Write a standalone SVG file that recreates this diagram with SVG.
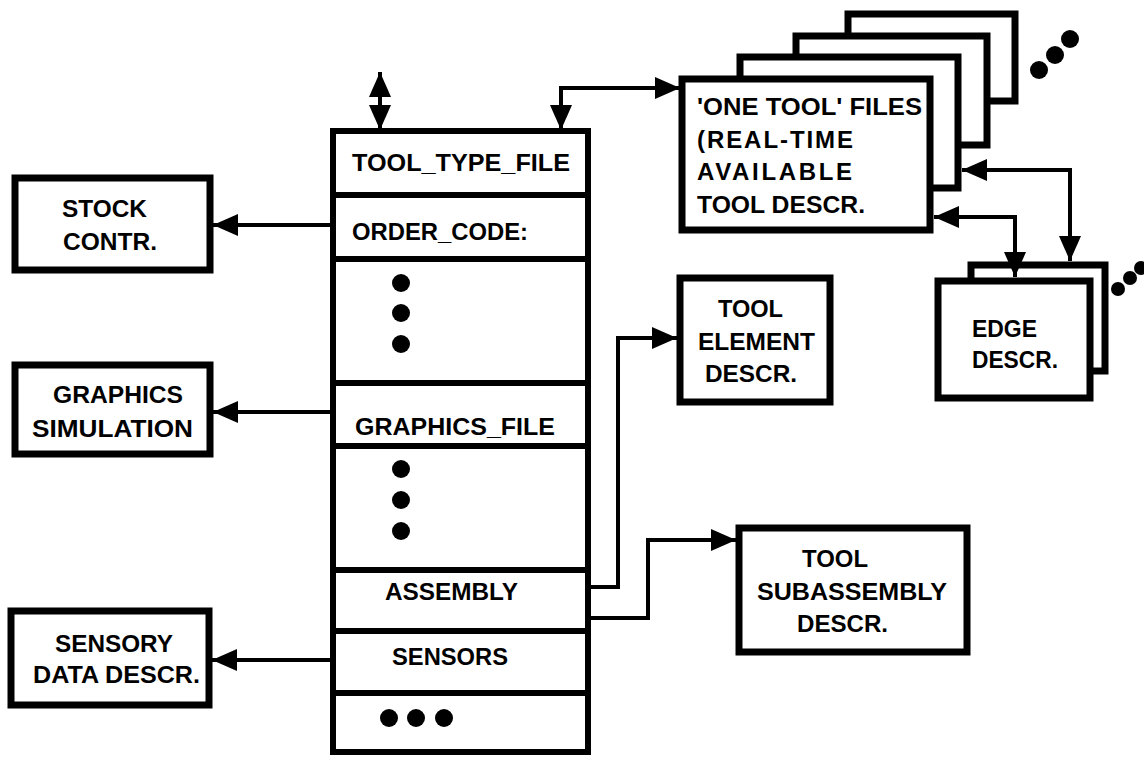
<svg xmlns="http://www.w3.org/2000/svg" width="1144" height="758" viewBox="0 0 1144 758">
<style>
.box{fill:#fff;stroke:#000;stroke-width:7}
.col{fill:#fff;stroke:#000;stroke-width:6}
.div{stroke:#000;stroke-width:6}
.con{fill:none;stroke:#000;stroke-width:4}
text{font-family:"Liberation Sans",Arial,sans-serif;font-weight:bold;font-size:24px;fill:#000}
.dot{fill:#000}
</style>
<defs>
<marker id="ah" markerUnits="userSpaceOnUse" markerWidth="26" markerHeight="22" viewBox="0 0 26 22" refX="25" refY="11" orient="auto-start-reverse">
<path d="M0,0 L25,11 L0,22 Z" fill="#000"/>
</marker>
</defs>
<rect width="1144" height="758" fill="#fff"/>

<g id="tool-type-file">
<rect class="col" x="333" y="131" width="255" height="621"/>
<line class="div" x1="333" y1="195" x2="588" y2="195"/>
<line class="div" x1="333" y1="259" x2="588" y2="259"/>
<line class="div" x1="333" y1="383" x2="588" y2="383"/>
<line class="div" x1="333" y1="446" x2="588" y2="446"/>
<line class="div" x1="333" y1="570" x2="588" y2="570"/>
<line class="div" x1="333" y1="631" x2="588" y2="631"/>
<line class="div" x1="333" y1="693" x2="588" y2="693"/>
<text x="352" y="171" textLength="218" lengthAdjust="spacingAndGlyphs">TOOL_TYPE_FILE</text>
<text x="352" y="240" textLength="176" lengthAdjust="spacingAndGlyphs">ORDER_CODE:</text>
<circle class="dot" cx="401" cy="283" r="9"/>
<circle class="dot" cx="401" cy="313" r="9"/>
<circle class="dot" cx="401" cy="344" r="9"/>
<text x="355" y="435" textLength="200" lengthAdjust="spacingAndGlyphs">GRAPHICS_FILE</text>
<circle class="dot" cx="401" cy="469" r="9"/>
<circle class="dot" cx="401" cy="500" r="9"/>
<circle class="dot" cx="401" cy="531" r="9"/>
<text x="385" y="600" textLength="133" lengthAdjust="spacingAndGlyphs">ASSEMBLY</text>
<text x="392" y="665" textLength="116" lengthAdjust="spacingAndGlyphs">SENSORS</text>
<circle class="dot" cx="389" cy="718" r="9"/>
<circle class="dot" cx="416" cy="718" r="9"/>
<circle class="dot" cx="444" cy="718" r="9"/>
</g>

<g id="stock-contr">
<rect class="box" x="15" y="178" width="195" height="92"/>
<text x="62" y="217" textLength="85" lengthAdjust="spacingAndGlyphs">STOCK</text>
<text x="63" y="250" textLength="94" lengthAdjust="spacingAndGlyphs">CONTR.</text>
</g>

<g id="graphics-simulation">
<rect class="box" x="15" y="365" width="195" height="89"/>
<text x="53" y="403" textLength="130" lengthAdjust="spacingAndGlyphs">GRAPHICS</text>
<text x="32" y="437" textLength="161" lengthAdjust="spacingAndGlyphs">SIMULATION</text>
</g>

<g id="sensory-data-descr">
<rect class="box" x="11" y="611" width="198" height="94"/>
<text x="55" y="652" textLength="118" lengthAdjust="spacingAndGlyphs">SENSORY</text>
<text x="33" y="683" textLength="167" lengthAdjust="spacingAndGlyphs">DATA DESCR.</text>
</g>

<g id="one-tool-files">
<rect class="box" x="848" y="14" width="167" height="87"/>
<rect class="box" x="796" y="36" width="191" height="109"/>
<rect class="box" x="740" y="57" width="218" height="131"/>
<rect class="box" x="682" y="79" width="248" height="151"/>
<text x="697" y="115" textLength="225" lengthAdjust="spacingAndGlyphs">'ONE TOOL' FILES</text>
<text x="697" y="148" textLength="156" lengthAdjust="spacing">(REAL-TIME</text>
<text x="697" y="180" textLength="155" lengthAdjust="spacing">AVAILABLE</text>
<text x="697" y="213" textLength="168" lengthAdjust="spacingAndGlyphs">TOOL DESCR.</text>
<circle class="dot" cx="1039" cy="70" r="9"/>
<circle class="dot" cx="1055" cy="55" r="9"/>
<circle class="dot" cx="1070" cy="39" r="9"/>
</g>

<g id="edge-descr">
<rect class="box" x="971" y="265" width="134" height="106"/>
<rect class="box" x="938" y="281" width="152" height="117"/>
<text x="972" y="337" textLength="65" lengthAdjust="spacingAndGlyphs">EDGE</text>
<text x="972" y="368" textLength="86" lengthAdjust="spacingAndGlyphs">DESCR.</text>
<circle class="dot" cx="1118" cy="289" r="7"/>
<circle class="dot" cx="1130" cy="278" r="7"/>
<circle class="dot" cx="1141" cy="268" r="7"/>
</g>

<g id="tool-element-descr">
<rect class="box" x="680" y="278" width="150" height="124"/>
<text x="718" y="317" textLength="65" lengthAdjust="spacingAndGlyphs">TOOL</text>
<text x="698" y="350" textLength="117" lengthAdjust="spacingAndGlyphs">ELEMENT</text>
<text x="705" y="382" textLength="92" lengthAdjust="spacingAndGlyphs">DESCR.</text>
</g>

<g id="tool-subassembly-descr">
<rect class="box" x="739" y="528" width="228" height="124"/>
<text x="802" y="567" textLength="66" lengthAdjust="spacingAndGlyphs">TOOL</text>
<text x="757" y="600" textLength="190" lengthAdjust="spacingAndGlyphs">SUBASSEMBLY</text>
<text x="797" y="632" textLength="91" lengthAdjust="spacingAndGlyphs">DESCR.</text>
</g>

<g id="connectors">
<path class="con" d="M380,72 V130" marker-start="url(#ah)" marker-end="url(#ah)"/>
<path class="con" d="M561,130 V88 H680" marker-start="url(#ah)" marker-end="url(#ah)"/>
<path class="con" d="M333,225 H213" marker-end="url(#ah)"/>
<path class="con" d="M333,412 H213" marker-end="url(#ah)"/>
<path class="con" d="M333,660 H212" marker-end="url(#ah)"/>
<path class="con" d="M590,587 H618 V338 H677" marker-end="url(#ah)"/>
<path class="con" d="M590,618 H648 V540 H736" marker-end="url(#ah)"/>
<path class="con" d="M962,170 H1070 V261" marker-start="url(#ah)" marker-end="url(#ah)"/>
<path class="con" d="M934,217 H1015 V277" marker-start="url(#ah)" marker-end="url(#ah)"/>
</g>
</svg>
